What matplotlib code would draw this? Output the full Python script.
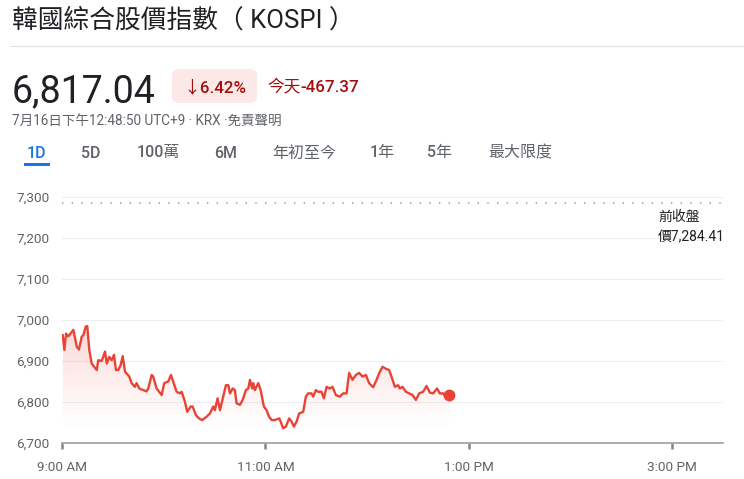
import numpy as np
import matplotlib
matplotlib.use("Agg")
import matplotlib.pyplot as plt
from matplotlib.patches import FancyBboxPatch, Rectangle
from matplotlib.lines import Line2D

plt.rcParams['font.family'] = ['Roboto', 'Noto Sans CJK TC', 'DejaVu Sans']

# minutes after 9:00 AM and index level
minutes = [0.4, 1.4, 2.4, 3.7, 6.7, 8.7, 10.0, 11.6, 12.6, 14.0, 14.9, 16.1, 17.5, 20.5,
           21.4, 23.4, 25.4, 26.4, 27.9, 29.3, 30.7, 31.8, 33.2, 34.6, 35.8, 37.2, 39.7,
           41.1, 43.0, 44.0, 45.6, 47.9, 49.9, 50.9, 52.9, 53.8, 55.8, 58.8, 60.3, 62.7,
           64.3, 65.6, 67.6, 69.6, 70.6, 72.5, 73.9, 75.9, 77.1, 79.0, 80.8, 82.7, 85.3,
           87.3, 89.2, 90.2, 91.8, 93.2, 95.1, 96.7, 98.1, 99.1, 100.7, 102.0, 103.0,
           105.0, 106.6, 108.5, 109.9, 110.9, 112.2, 112.8, 113.8, 115.8, 117.2, 119.1,
           120.7, 122.2, 123.7, 125.6, 128.2, 129.0, 130.5, 132.1, 134.0, 135.5, 136.8,
           138.4, 139.9, 142.3, 143.9, 145.2, 147.2, 148.2, 149.8, 151.1, 153.1, 154.5,
           156.1, 158.0, 159.6, 161.6, 163.9, 165.9, 167.9, 169.4, 171.4, 173.4, 175.3,
           177.3, 179.3, 181.2, 183.6, 185.6, 187.1, 189.1, 191.1, 193.0, 194.4, 196.4,
           198.3, 199.3, 200.9, 202.9, 204.8, 206.8, 208.8, 210.7, 213.1, 215.1, 217.0,
           219.0, 221.3, 222.9, 224.9, 226.4, 228.4]
prices = [6963, 6927, 6967, 6960, 6976, 6935, 6928, 6959, 6963, 6984, 6985, 6927, 6894, 6878,
          6902, 6900, 6923, 6894, 6910, 6902, 6915, 6878, 6878, 6890, 6912, 6874, 6862,
          6846, 6837, 6846, 6833, 6829, 6826, 6833, 6866, 6862, 6833, 6817, 6846, 6850,
          6866, 6850, 6825, 6821, 6825, 6801, 6776, 6789, 6789, 6768, 6760, 6756, 6764,
          6772, 6789, 6780, 6809, 6780, 6813, 6841, 6841, 6821, 6833, 6829, 6797,
          6793, 6805, 6829, 6833, 6854, 6833, 6846, 6829, 6846, 6829, 6789,
          6780, 6764, 6756, 6756, 6760, 6752, 6736, 6740, 6760, 6752, 6740,
          6752, 6772, 6776, 6813, 6821, 6821, 6813, 6829, 6825, 6825, 6809,
          6837, 6833, 6837, 6817, 6813, 6821, 6821, 6871, 6854, 6866, 6871,
          6862, 6866, 6846, 6836, 6854, 6870, 6886, 6881, 6878, 6862, 6837,
          6841, 6833, 6837, 6825, 6821, 6817, 6805, 6821, 6825, 6839, 6823,
          6821, 6833, 6821, 6821, 6813, 6817]

prev_close = 7284.41
y_ticks = [6700, 6800, 6900, 7000, 7100, 7200, 7300]
y_labels = ["6,700", "6,800", "6,900", "7,000", "7,100", "7,200", "7,300"]
x_ticks = [0, 120, 240, 360]
x_labels = ["9:00 AM", "11:00 AM", "1:00 PM", "3:00 PM"]
tabs = ["1D", "5D", "100萬", "6M", "年初至今", "1年", "5年", "最大限度"]
tab_x = [37, 91, 158, 226, 304, 382, 440, 520]

W, H = 744, 479
RED = "#ea4335"
DARK = "#202124"
GREY = "#5f6368"

fig = plt.figure(figsize=(W / 100, H / 100), dpi=100)


def fx(px):
    return px / W


def fy(py):
    return 1 - py / H


# header
fig.text(fx(12), fy(20), "韓國綜合股價指數（ KOSPI ）", fontsize=18.5, color=DARK, va='center')
fig.add_artist(Line2D([fx(10), 1], [fy(46), fy(46)], color="#e0e0e0", lw=0.8))
fig.text(fx(12), fy(102), "6,817.04", fontsize=27, color=DARK, va='baseline')
fig.add_artist(FancyBboxPatch((fx(172), fy(103)), fx(85), 34 / H,
                              boxstyle="round,pad=0,rounding_size=0.012",
                              transform=fig.transFigure, fc="#fce8e6", ec="none"))
fig.text(fx(183), fy(92), "↓6.42%", fontsize=12.2, color="#a50e0e", va='baseline',
         fontweight='medium')
fig.text(fx(267), fy(92.5), "今天", fontsize=12, color="#a50e0e", va='baseline')
fig.text(fx(300), fy(92), "-467.37", fontsize=12.2, color="#a50e0e", va='baseline',
         fontweight='medium')
fig.text(fx(12), fy(126), "7月16日下午12:48:50 UTC+9 · KRX ·免責聲明", fontsize=9.75,
         color=GREY, va='baseline')
for i, (lab, x) in enumerate(zip(tabs, tab_x)):
    fig.text(fx(x), fy(153), lab, fontsize=11.5, ha='center', va='center',
             color="#1a73e8" if i == 0 else GREY, fontweight='medium')
fig.add_artist(Rectangle((fx(24), fy(166)), fx(26), 3 / H, transform=fig.transFigure,
                         fc="#1a73e8", ec="none"))

# chart
ax = fig.add_axes([fx(62), fy(443), fx(661), 246 / H])
poly = ax.fill_between(minutes, prices, 6700, color='none', lw=0)
n = 256
grad = np.zeros((n, 1, 4))
grad[:, 0, :3] = matplotlib.colors.to_rgb(RED)
grad[:, 0, 3] = np.linspace(0.0, 0.27, n) ** 1.2
img = ax.imshow(grad, extent=[minutes[0], minutes[-1], 6725, max(prices)], origin='lower',
                aspect='auto', zorder=1)
img.set_clip_path(poly.get_paths()[0], transform=ax.transData)
ax.plot(minutes, prices, color=RED, lw=1.7, zorder=3, solid_joinstyle='round')
ax.plot(minutes[-1], prices[-1], 'o', color=RED, ms=7.5, zorder=4)
ax.axhline(prev_close, color="#9aa0a6", lw=1.2, ls=(0, (0.8, 5)), zorder=2)

ax.set_xlim(0, 390)
ax.set_ylim(6700, 7300)
ax.set_yticks(y_ticks, y_labels)
ax.set_xticks(x_ticks, x_labels)
ax.grid(axis='y', color="#eeeeee", lw=0.8)
ax.set_axisbelow(True)
for s in ["left", "right", "top"]:
    ax.spines[s].set_visible(False)
ax.spines["bottom"].set_color("#9aa0a6")
ax.spines["bottom"].set_linewidth(1.2)
ax.tick_params(axis='y', length=0, pad=9, labelsize=9.7, labelcolor=GREY)
ax.tick_params(axis='x', length=4, width=1.8, color="#80868b", pad=9, labelsize=9.7,
               labelcolor=GREY)

fig.text(fx(658), fy(217), "前收盤", fontsize=10, color=DARK, va='center')
fig.text(fx(658), fy(237), "價7,284.41", fontsize=10, color=DARK, va='center')

fig.savefig("out.png", dpi=100)
